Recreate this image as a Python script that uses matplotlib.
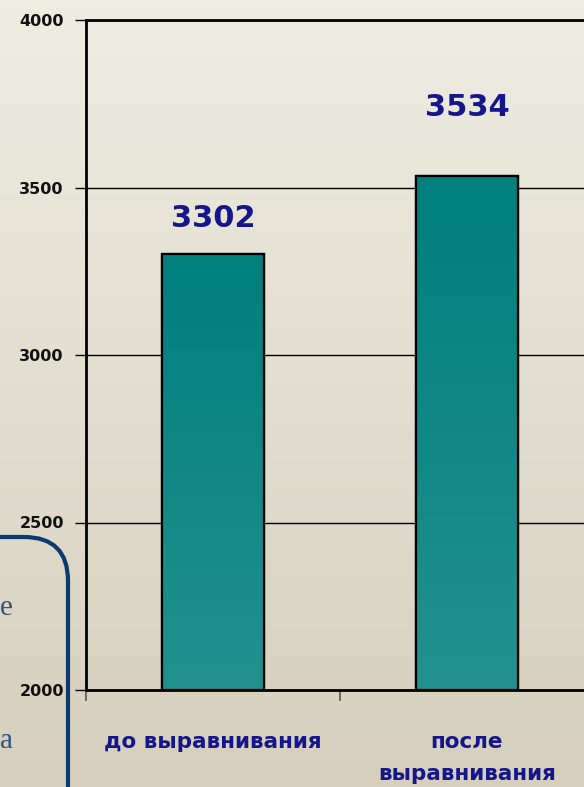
import numpy as np
import matplotlib
matplotlib.use("Agg")
import matplotlib.pyplot as plt
from matplotlib.patches import FancyBboxPatch
from matplotlib.colors import LinearSegmentedColormap

# ---- data ----
categories = ["до выравнивания", "после\nвыравнивания"]
values = [3302, 3534]
value_labels = ["3302", "3534"]
y_ticks = [2000, 2500, 3000, 3500, 4000]

# ---- style ----
BG_TOP = "#eeede2"
BG_BOT = "#d6cfbd"
BAR_TOP = "#007f7d"
BAR_BOT = "#22918e"
NAVY = "#16168c"
BOX_EDGE = "#0b3a6e"
label_offsets_px = [21, 54]

W, H = 584, 787
fig = plt.figure(figsize=(W / 100, H / 100), dpi=100)

# background gradient + slide decoration in pixel coordinates
bg = fig.add_axes([0, 0, 1, 1], zorder=-10)
bg.set_axis_off()
cmap_bg = LinearSegmentedColormap.from_list("bg", [BG_BOT, BG_TOP])
grad = np.linspace(0, 1, 256).reshape(-1, 1)
bg.imshow(grad, aspect="auto", cmap=cmap_bg, origin="lower", extent=[0, W, H, 0])
bg.set_xlim(0, W)
bg.set_ylim(H, 0)

# left partial text box (cut off by slide edge)
box = FancyBboxPatch((-200, 537), 268, 400,
                     boxstyle="round,pad=0,rounding_size=44",
                     fill=False, edgecolor=BOX_EDGE, linewidth=3, clip_on=True)
bg.add_patch(box)
bg.text(0, 608, "е", ha="left", va="center", fontsize=21,
        family="Liberation Serif", color="#2a5580")
bg.text(0, 741, "а", ha="left", va="center", fontsize=21,
        family="Liberation Serif", color="#2a5580")

# main axes (extends past the right edge like the original slide crop)
ax = fig.add_axes([86 / W, 97 / H, 508 / W, 670 / H])
ax.patch.set_alpha(0)

x = np.arange(len(categories))
bars = ax.bar(x, values, width=0.4, bottom=0, color=BAR_TOP,
              edgecolor="black", linewidth=1.6, zorder=3)

cmap_bar = LinearSegmentedColormap.from_list("bar", [BAR_BOT, BAR_TOP])
for b in bars:
    x0, w, h = b.get_x(), b.get_width(), b.get_height()
    im = ax.imshow(grad, aspect="auto", cmap=cmap_bar, origin="lower",
                   extent=[x0, x0 + w, y_ticks[0], h], zorder=3.5)
    im.set_clip_path(b)
    edge = plt.Rectangle((x0, y_ticks[0]), w, h - y_ticks[0], fill=False,
                         edgecolor="black", linewidth=1.6, zorder=4)
    ax.add_patch(edge)

ax.set_xlim(-0.5, len(categories) - 0.5)
ax.set_ylim(y_ticks[0], y_ticks[-1])
ax.set_yticks(y_ticks)
ax.set_yticklabels([str(t) for t in y_ticks])

ax.yaxis.grid(True, color="black", linewidth=1.0, zorder=1)
ax.set_axisbelow(True)

for side in ["left", "bottom", "top"]:
    ax.spines[side].set_linewidth(2)
    ax.spines[side].set_color("black")
ax.spines["right"].set_visible(False)

ax.tick_params(axis="y", direction="out", length=8, width=1, pad=8,
               labelsize=11.5, colors="black")
for lab in ax.get_yticklabels():
    lab.set_fontweight("bold")
    lab.set_color("#111111")

# category ticks at boundaries, labels at centers
ax.set_xticks(np.arange(-0.5, len(categories) + 0.5, 1.0))
ax.set_xticklabels([])
ax.tick_params(axis="x", direction="out", length=8, width=1.2, color="#555555")
ax.set_xticks(x, minor=True)
ax.set_xticklabels(categories, minor=True)
ax.tick_params(axis="x", which="minor", length=0, pad=30, labelsize=15.5,
               colors=NAVY)
for lab in ax.get_xticklabels(minor=True):
    lab.set_fontweight("bold")
    lab.set_linespacing(1.8)
    lab.set_verticalalignment("top")

for xi, v, txt, off in zip(x, values, value_labels, label_offsets_px):
    ax.annotate(txt, (xi, v), xytext=(0, off * 72 / 100), textcoords="offset points",
                ha="center", va="bottom", fontsize=22, fontweight="bold",
                color=NAVY, zorder=6)

fig.savefig("out.png", dpi=100)
